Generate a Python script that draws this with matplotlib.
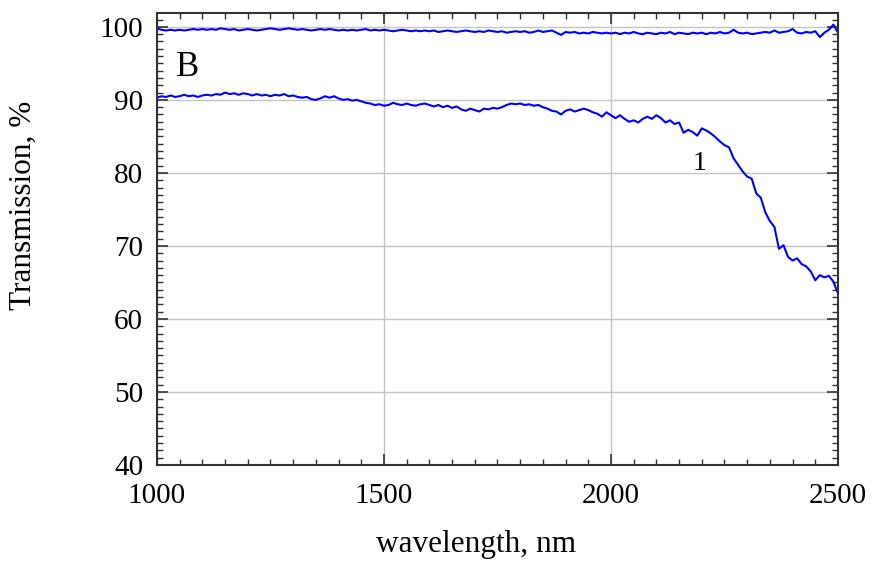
import numpy as np
import matplotlib
matplotlib.use("Agg")
import matplotlib.pyplot as plt
from matplotlib.ticker import MultipleLocator

# wavelength grid, nm (10 nm step)
wavelength = np.arange(1000, 2501, 10)

# upper trace, %
trans_top = [
    99.8, 99.6, 99.5, 99.6, 99.5, 99.6, 99.5, 99.6, 99.7, 99.6,
    99.7, 99.6, 99.7, 99.6, 99.8, 99.7, 99.6, 99.7, 99.5, 99.6,
    99.7, 99.6, 99.5, 99.6, 99.7, 99.8, 99.7, 99.6, 99.7, 99.8,
    99.7, 99.6, 99.7, 99.6, 99.5, 99.6, 99.7, 99.6, 99.7, 99.6,
    99.5, 99.6, 99.5, 99.6, 99.5, 99.6, 99.7, 99.5, 99.6, 99.5,
    99.6, 99.5, 99.4, 99.5, 99.6, 99.5, 99.4, 99.5, 99.4, 99.5,
    99.4, 99.5, 99.3, 99.4, 99.5, 99.4, 99.3, 99.4, 99.5, 99.4,
    99.3, 99.4, 99.3, 99.5, 99.4, 99.3, 99.4, 99.2, 99.3, 99.4,
    99.3, 99.4, 99.2, 99.3, 99.5, 99.3, 99.4, 99.5, 99.2, 98.9,
    99.3, 99.2, 99.3, 99.1, 99.2, 99.1, 99.3, 99.2, 99.1, 99.2,
    99.1, 99.2, 99.0, 99.2, 99.1, 99.3, 99.1, 99.0, 99.2, 99.1,
    99.0, 99.2, 99.1, 99.3, 99.0, 99.2, 99.1, 99.0, 99.2, 99.1,
    99.2, 99.0, 99.2, 99.1, 99.3, 99.1, 99.2, 99.6, 99.2, 99.1,
    99.2, 99.0, 99.1, 99.2, 99.3, 99.2, 99.5, 99.2, 99.3, 99.4,
    99.7, 99.2, 99.1, 99.3, 99.2, 99.4, 98.6, 99.2, 99.6, 100.3,
    99.2,
]

# curve 1, %
trans_1 = [
    90.3, 90.5, 90.4, 90.6, 90.4, 90.5, 90.7, 90.5, 90.6, 90.4,
    90.6, 90.7, 90.6, 90.8, 90.7, 91.0, 90.8, 90.9, 90.7, 90.9,
    90.8, 90.6, 90.8, 90.6, 90.7, 90.5, 90.7, 90.6, 90.8, 90.5,
    90.6, 90.4, 90.3, 90.4, 90.1, 90.0, 90.2, 90.5, 90.3, 90.5,
    90.2, 90.0, 90.1, 89.9, 90.0, 89.8, 89.6, 89.5, 89.3, 89.4,
    89.2, 89.3, 89.6, 89.4, 89.3, 89.5, 89.3, 89.2, 89.4, 89.5,
    89.3, 89.1, 89.3, 89.0, 89.2, 88.9, 89.1, 88.7, 88.5, 88.8,
    88.6, 88.4, 88.8, 88.7, 88.9, 88.8, 89.0, 89.3, 89.5, 89.4,
    89.5, 89.3, 89.4, 89.2, 89.3, 89.0, 88.8, 88.5, 88.4, 88.0,
    88.5, 88.7, 88.4, 88.6, 88.8, 88.6, 88.3, 88.1, 87.7, 88.3,
    87.9, 87.5, 87.9, 87.4, 87.0, 87.2, 86.9, 87.4, 87.7, 87.4,
    87.9, 87.5, 86.9, 87.2, 86.7, 86.9, 85.5, 85.9, 85.6, 85.1,
    86.1, 85.8, 85.4, 84.9, 84.3, 83.8, 83.5, 82.0, 81.1, 80.2,
    79.5, 79.2, 77.2, 76.6, 74.6, 73.4, 72.6, 69.6, 70.1, 68.5,
    68.0, 68.3, 67.5, 67.2, 66.5, 65.3, 66.0, 65.7, 65.9, 65.1,
    63.5,
]

plt.rcParams['font.family'] = ['Liberation Serif', 'DejaVu Serif']

fig = plt.figure(figsize=(8.74, 5.62), dpi=100)
ax = fig.add_axes([0.1796, 0.1726, 0.7792, 0.8043])

ax.plot(wavelength, trans_top, color="#0000ff", lw=1.5)
ax.plot(wavelength, trans_1, color="#0000ff", lw=1.5)

ax.set_xlim(1000, 2500)
ax.set_ylim(40, 101.9)
ax.xaxis.set_major_locator(MultipleLocator(500))
ax.xaxis.set_minor_locator(MultipleLocator(50))
ax.yaxis.set_major_locator(MultipleLocator(10))
ax.yaxis.set_minor_locator(MultipleLocator(1))

ax.grid(True, which="major", color="#c4c4c4", lw=1.0)
ax.set_axisbelow(True)

ax.tick_params(which="both", direction="in", top=True, right=True,
               color="#333333", labelsize=21)
ax.tick_params(axis="x", which="major", pad=13)
ax.tick_params(axis="y", which="major", pad=10)
ax.tick_params(which="major", length=8, width=1.2)
ax.tick_params(which="minor", length=4, width=1.0)
for s in ax.spines.values():
    s.set_color("#333333")
    s.set_linewidth(1.5)

ax.set_xlabel("wavelength, nm", fontsize=22.5)
ax.set_ylabel("Transmission, %", fontsize=22.5)
ax.xaxis.set_label_coords(0.469, -0.144)
ax.yaxis.set_label_coords(-0.175, 0.575)

ax.text(1068, 94.4, "B", fontsize=25, ha="center", va="center")
ax.text(2196, 81.3, "1", fontsize=20, ha="center", va="center")

fig.savefig("out.png", dpi=100)
